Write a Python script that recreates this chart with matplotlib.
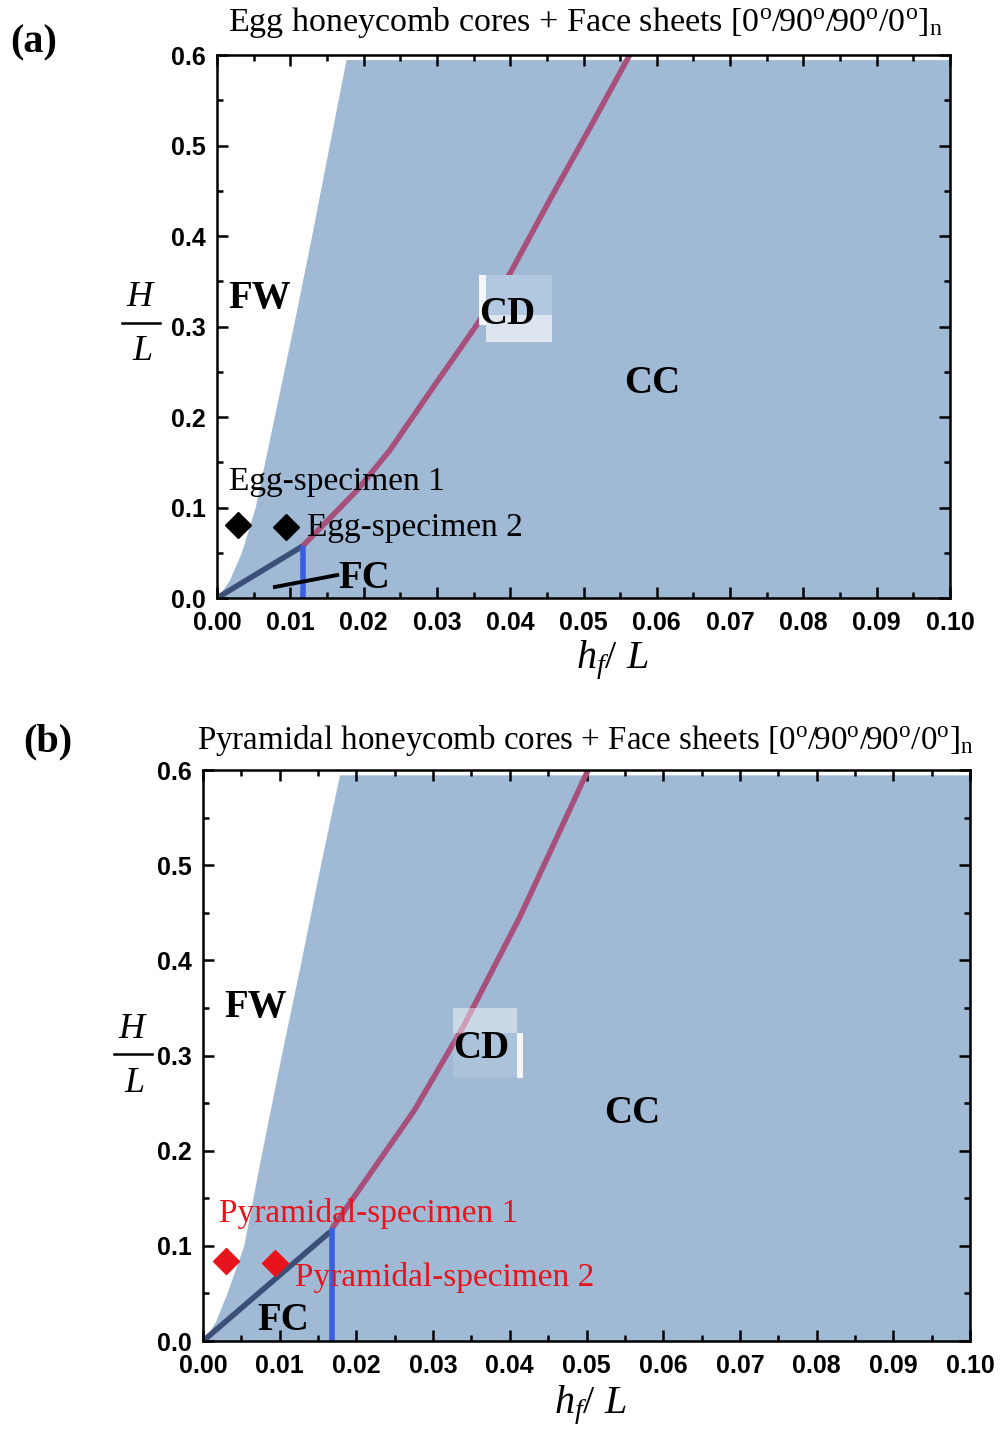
import matplotlib
matplotlib.use("Agg")
import matplotlib.pyplot as plt
from matplotlib.patches import Rectangle
from matplotlib.lines import Line2D
import numpy as np

plt.rcParams['mathtext.fontset'] = 'custom'
plt.rcParams['mathtext.rm'] = 'Liberation Serif'
plt.rcParams['mathtext.it'] = 'Liberation Serif:italic'
plt.rcParams['mathtext.bf'] = 'Liberation Serif:bold'

# ---------------- data ----------------
# Panel (a) Egg
a_fw_H = [0.0, 0.02, 0.05, 0.10, 0.20, 0.30, 0.40, 0.50, 0.595]
a_fw_h = [0.0, 0.0017, 0.0033, 0.0052, 0.0078, 0.0104, 0.0129, 0.0153, 0.0176]
a_fc_h = [0.0, 0.0117]
a_fc_H = [0.0, 0.0575]
a_blue_h = [0.0118, 0.0118]
a_blue_H = [0.0, 0.058]
a_cd_h = [0.0117, 0.0191, 0.0236, 0.0295, 0.0352, 0.0400, 0.0454, 0.0509, 0.0563]
a_cd_H = [0.0575, 0.119, 0.1635, 0.233, 0.299, 0.359, 0.440, 0.520, 0.600]
a_spec_h = [0.0029, 0.0094]
a_spec_H = [0.081, 0.079]
a_spec_names = ["Egg-specimen 1", "Egg-specimen 2"]

# Panel (b) Pyramidal
b_fw_H = [0.0, 0.02, 0.05, 0.10, 0.20, 0.30, 0.40, 0.50, 0.595]
b_fw_h = [0.0, 0.0016, 0.0031, 0.0053, 0.0077, 0.0102, 0.0128, 0.0153, 0.0178]
b_fc_h = [0.0, 0.0166]
b_fc_H = [0.0, 0.115]
b_blue_h = [0.0168, 0.0168]
b_blue_H = [0.0, 0.119]
b_cd_h = [0.0168, 0.0276, 0.0339, 0.0413, 0.0452, 0.0502]
b_cd_H = [0.118, 0.243, 0.330, 0.4455, 0.513, 0.600]
b_spec_h = [0.0030, 0.0094]
b_spec_H = [0.084, 0.082]
b_spec_names = ["Pyramidal-specimen 1", "Pyramidal-specimen 2"]

x_ticks = [0.00, 0.01, 0.02, 0.03, 0.04, 0.05, 0.06, 0.07, 0.08, 0.09, 0.10]
y_ticks = [0.0, 0.1, 0.2, 0.3, 0.4, 0.5, 0.6]

FILL = '#a0bad6'
PINK = '#a8507c'
NAVY = '#3b4f78'
BLUE = '#3a5ee0'
RED = '#e8141c'

fig = plt.figure(figsize=(10, 14.3), dpi=100)
serif = 'Liberation Serif'
REG = 28      # region label size
SPEC = 24     # specimen label size


def style_axes(ax):
    ax.set_xlim(0, 0.1)
    ax.set_ylim(0, 0.6)
    ax.set_xticks(x_ticks)
    ax.set_xticklabels([f"{v:.2f}" for v in x_ticks])
    ax.set_yticks(y_ticks)
    ax.set_yticklabels([f"{v:.1f}" for v in y_ticks])
    ax.set_xticks(np.arange(0.005, 0.1, 0.01), minor=True)
    ax.set_yticks(np.arange(0.05, 0.6, 0.1), minor=True)
    ax.tick_params(which='both', direction='in', top=True, right=True, width=1.8, color='black')
    ax.tick_params(which='major', length=8)
    ax.tick_params(which='minor', length=4.5)
    ax.tick_params(axis='x', which='major', pad=9)
    ax.tick_params(axis='y', which='major', pad=8)
    for lab in ax.get_xticklabels() + ax.get_yticklabels():
        lab.set_fontfamily('Liberation Sans')
        lab.set_fontweight('bold')
        lab.set_fontsize(18)
    for s in ax.spines.values():
        s.set_linewidth(1.8)
        s.set_zorder(10)


# ---------- panel (a) ----------
axa = fig.add_axes([0.217, 0.5818, 0.733, 0.3797])
style_axes(axa)
axa.fill_betweenx(a_fw_H, a_fw_h, 0.1, color=FILL, lw=0, zorder=1)
axa.plot(a_cd_h, a_cd_H, color=PINK, lw=4, zorder=3, solid_capstyle='butt', solid_joinstyle='round')
axa.plot(a_fc_h, a_fc_H, color=NAVY, lw=4, zorder=3, solid_capstyle='butt')
axa.plot(a_blue_h, a_blue_H, color=BLUE, lw=4, zorder=3, solid_capstyle='butt')
axa.plot(a_spec_h, a_spec_H, ls='none', marker='D', ms=13, color='black', zorder=5)
# CD patches
axa.add_patch(Rectangle((0.0357, 0.3127), 0.0100, 0.0442, color='#b2c8e0', lw=0, zorder=4))
axa.add_patch(Rectangle((0.0367, 0.2829), 0.0090, 0.0298, color='#dde6ef', lw=0, zorder=4))
axa.add_patch(Rectangle((0.0357, 0.3015), 0.0010, 0.0554, color='#f4f6f9', lw=0, zorder=4))
axa.text(0.00587, 0.3315, "FW", fontfamily=serif, fontweight='bold', fontsize=REG, ha='center', va='center', zorder=6)
axa.text(0.03956, 0.3138, "CD", fontfamily=serif, fontweight='bold', fontsize=REG, ha='center', va='center', zorder=6)
axa.text(0.05934, 0.2376, "CC", fontfamily=serif, fontweight='bold', fontsize=REG, ha='center', va='center', zorder=6)
axa.text(0.01660, 0.0221, "FC", fontfamily=serif, fontweight='bold', fontsize=REG, ha='left', va='center', zorder=6)
axa.plot([0.0079, 0.0164], [0.0122, 0.0254], color='black', lw=2.8, zorder=6)
axa.text(0.00164, 0.128, a_spec_names[0], fontfamily=serif, fontsize=SPEC, ha='left', va='center', zorder=6)
axa.text(0.01228, 0.0773, a_spec_names[1], fontfamily=serif, fontsize=SPEC, ha='left', va='center', zorder=6)

# ---------- panel (b) ----------
axb = fig.add_axes([0.203, 0.0622, 0.767, 0.3993])
style_axes(axb)
axb.fill_betweenx(b_fw_H, b_fw_h, 0.1, color=FILL, lw=0, zorder=1)
axb.plot(b_cd_h, b_cd_H, color=PINK, lw=4, zorder=3, solid_capstyle='butt', solid_joinstyle='round')
axb.plot(b_fc_h, b_fc_H, color=NAVY, lw=4, zorder=3, solid_capstyle='butt')
axb.plot(b_blue_h, b_blue_H, color=BLUE, lw=4, zorder=3, solid_capstyle='butt')
axb.plot(b_spec_h, b_spec_H, ls='none', marker='D', ms=13, color=RED, zorder=5)
axb.add_patch(Rectangle((0.0326, 0.3236), 0.00834, 0.0263, color='white', alpha=0.45, lw=0, zorder=4))
axb.add_patch(Rectangle((0.0326, 0.2774), 0.00834, 0.0462, color='white', alpha=0.12, lw=0, zorder=4))
axb.add_patch(Rectangle((0.04094, 0.2763), 0.0008, 0.0473, color='#f4f6f9', lw=0, zorder=4))
axb.text(0.00691, 0.350, "FW", fontfamily=serif, fontweight='bold', fontsize=REG, ha='center', va='center', zorder=6)
axb.text(0.03625, 0.3079, "CD", fontfamily=serif, fontweight='bold', fontsize=REG, ha='center', va='center', zorder=6)
axb.text(0.05593, 0.2396, "CC", fontfamily=serif, fontweight='bold', fontsize=REG, ha='center', va='center', zorder=6)
axb.text(0.01043, 0.0221, "FC", fontfamily=serif, fontweight='bold', fontsize=REG, ha='center', va='center', zorder=6)
axb.text(0.00209, 0.1345, b_spec_names[0], fontfamily=serif, fontsize=SPEC, color=RED, ha='left', va='center', zorder=6)
axb.text(0.0120, 0.0672, b_spec_names[1], fontfamily=serif, fontsize=SPEC, color=RED, ha='left', va='center', zorder=6)

# ---------- titles & labels ----------
deg = r"0$^{\rm o}$/90$^{\rm o}$/90$^{\rm o}$/0$^{\rm o}$]$_{\rm n}$"
fig.text(0.586, 0.9840, "Egg honeycomb cores + Face sheets [" + deg, fontfamily=serif, fontsize=24.5, ha='center', va='center')
fig.text(0.585, 0.4820, "Pyramidal honeycomb cores + Face sheets [" + deg, fontfamily=serif, fontsize=23.8, ha='center', va='center')
fig.text(0.034, 0.970, "(a)", fontfamily=serif, fontweight='bold', fontsize=29, ha='center', va='center')
fig.text(0.048, 0.4815, "(b)", fontfamily=serif, fontweight='bold', fontsize=29, ha='center', va='center')

for (cx, cy) in [(0.612, 0.5385), (0.590, 0.0175)]:
    fig.text(cx, cy, r"$h_f$/ $L$", fontfamily=serif, fontsize=29, ha='center', va='center')


def frac_label(cx, cy_px):
    # cy_px: pixel row (from top) of the fraction bar
    fig.text(cx, 1 - (cy_px - 25) / 1430, r"$H$", fontfamily=serif, fontsize=26, ha='center', va='center')
    fig.text(cx + 0.001, 1 - (cy_px + 29) / 1430, r"$L$", fontfamily=serif, fontsize=26, ha='center', va='center')
    fig.add_artist(Line2D([cx - 0.019, cx + 0.019], [1 - cy_px / 1430] * 2, color='black', lw=1.8,
                          transform=fig.transFigure))


frac_label(0.141, 323)
frac_label(0.133, 1054)

fig.savefig("out.png", dpi=100)
